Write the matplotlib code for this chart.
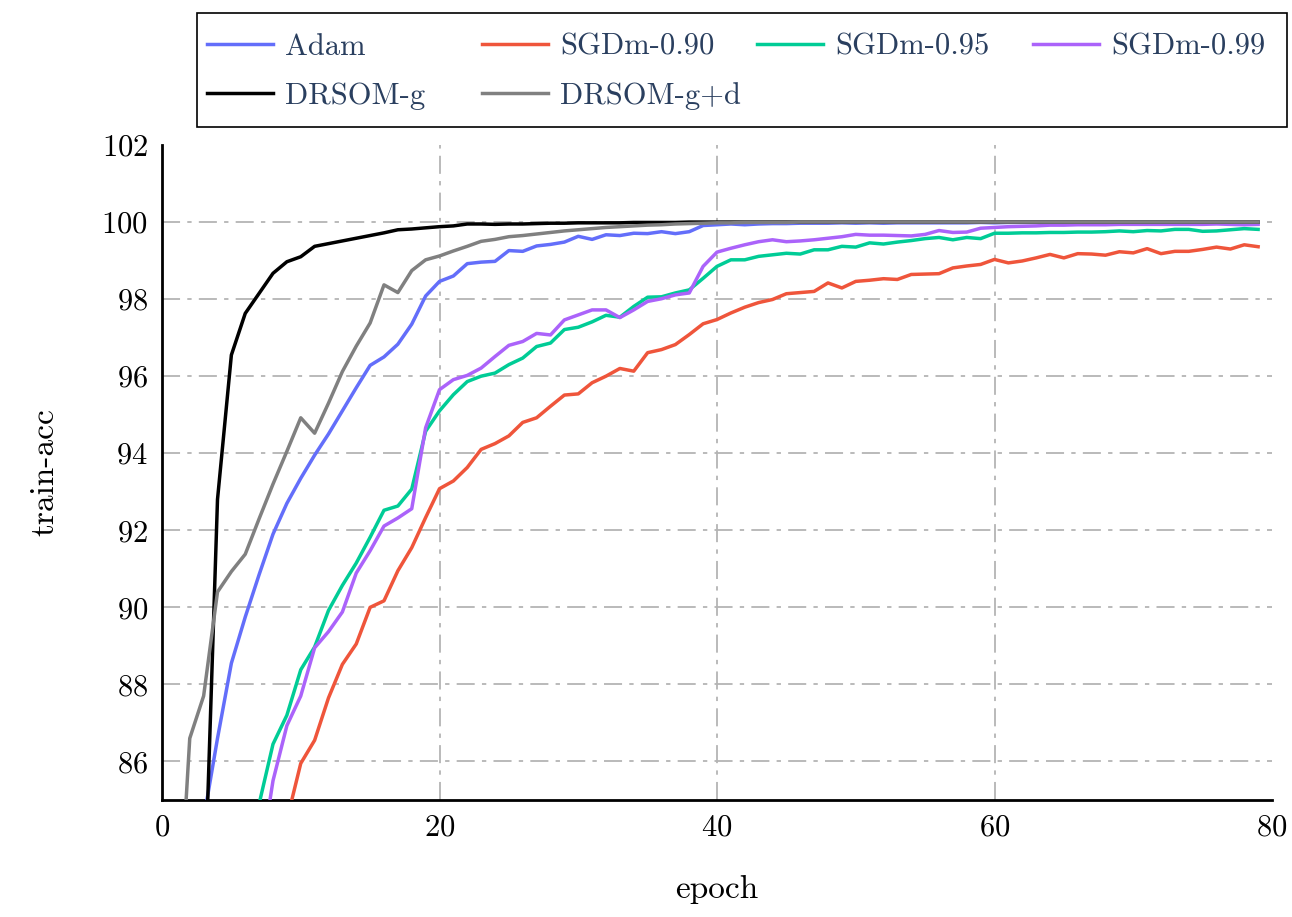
import numpy as np
import matplotlib
matplotlib.use("Agg")
import matplotlib.pyplot as plt
from matplotlib.patches import Rectangle

plt.rcParams['font.family'] = ['cmr10', 'DejaVu Serif']
plt.rcParams['axes.formatter.use_mathtext'] = True

epochs = list(range(1, 80))

# train accuracy per epoch (values < 85 are off-axis)
adam = [80.0, 82.2, 84.5, 86.6, 88.55, 89.75, 90.85, 91.9, 92.7, 93.35,
        93.95, 94.5, 95.1, 95.7, 96.28, 96.5, 96.83, 97.35, 98.08, 98.46,
        98.6, 98.92, 98.96, 98.98, 99.26, 99.24, 99.38, 99.42, 99.48, 99.63,
        99.55, 99.67, 99.65, 99.71, 99.7, 99.75, 99.7, 99.75, 99.91, 99.93,
        99.95, 99.93, 99.95, 99.96, 99.96, 99.97, 99.97, 99.97, 99.98, 99.97,
        99.98, 99.97, 99.98, 99.98, 99.98, 99.98, 99.98, 99.98, 99.99, 99.98,
        99.99, 99.99, 99.99, 99.99, 99.99, 99.99, 99.99, 99.99, 99.99, 99.99,
        99.99, 99.99, 99.99, 99.99, 99.99, 99.99, 99.99, 99.99, 99.99]
sgdm_090 = [70.0, 73.0, 75.5, 77.5, 79.3, 80.9, 82.2, 83.3, 84.48, 85.95,
            86.55, 87.65, 88.52, 89.05, 90.0, 90.17, 90.95, 91.55, 92.33, 93.08,
            93.28, 93.63, 94.1, 94.25, 94.45, 94.8, 94.92, 95.22, 95.51, 95.54,
            95.83, 96.0, 96.2, 96.13, 96.61, 96.69, 96.82, 97.08, 97.36, 97.47,
            97.64, 97.79, 97.91, 97.99, 98.14, 98.17, 98.2, 98.42, 98.29, 98.46,
            98.49, 98.53, 98.51, 98.64, 98.65, 98.66, 98.81, 98.86, 98.9, 99.03,
            98.94, 98.99, 99.07, 99.16, 99.07, 99.18, 99.17, 99.14, 99.23, 99.2,
            99.31, 99.18, 99.24, 99.24, 99.29, 99.35, 99.3, 99.41, 99.36]
sgdm_095 = [72.0, 75.0, 77.5, 79.5, 81.2, 82.8, 84.9, 86.45, 87.2, 88.38,
            88.97, 89.92, 90.57, 91.15, 91.82, 92.52, 92.63, 93.07, 94.57, 95.1,
            95.52, 95.86, 96.0, 96.08, 96.3, 96.47, 96.77, 96.86, 97.21, 97.27,
            97.41, 97.58, 97.53, 97.81, 98.05, 98.06, 98.16, 98.24, 98.54, 98.85,
            99.02, 99.02, 99.11, 99.15, 99.19, 99.17, 99.28, 99.28, 99.37, 99.35,
            99.46, 99.43, 99.48, 99.52, 99.57, 99.6, 99.54, 99.6, 99.57, 99.71,
            99.71, 99.72, 99.72, 99.73, 99.73, 99.74, 99.74, 99.75, 99.77, 99.75,
            99.78, 99.77, 99.81, 99.81, 99.76, 99.77, 99.8, 99.83, 99.81]
sgdm_099 = [70.0, 73.5, 76.0, 78.2, 80.0, 81.6, 83.2, 85.5, 86.93, 87.7,
            88.95, 89.37, 89.88, 90.89, 91.47, 92.11, 92.32, 92.56, 94.66, 95.65,
            95.91, 96.02, 96.21, 96.51, 96.8, 96.9, 97.11, 97.07, 97.46, 97.59,
            97.72, 97.72, 97.52, 97.72, 97.94, 98.01, 98.11, 98.16, 98.85, 99.22,
            99.32, 99.41, 99.49, 99.54, 99.49, 99.51, 99.54, 99.58, 99.62, 99.68,
            99.66, 99.66, 99.65, 99.64, 99.68, 99.78, 99.73, 99.74, 99.84, 99.86,
            99.88, 99.89, 99.9, 99.92, 99.92, 99.93, 99.93, 99.93, 99.94, 99.94,
            99.94, 99.94, 99.94, 99.94, 99.94, 99.95, 99.94, 99.93, 99.94]
drsom_g = [74.0, 78.0, 81.7, 92.8, 96.55, 97.63, 98.15, 98.67, 98.97, 99.1,
           99.37, 99.44, 99.51, 99.58, 99.65, 99.72, 99.8, 99.82, 99.85, 99.88,
           99.9, 99.95, 99.95, 99.94, 99.95, 99.95, 99.96, 99.97, 99.97, 99.98,
           99.98, 99.98, 99.98, 99.99, 99.99, 99.99, 99.99, 100.0, 100.0, 100.0,
           100.0, 100.0, 100.0, 100.0, 100.0, 100.0, 100.0, 100.0, 100.0, 100.0,
           100.0, 100.0, 100.0, 100.0, 100.0, 100.0, 100.0, 100.0, 100.0, 100.0,
           100.0, 100.0, 100.0, 100.0, 100.0, 100.0, 100.0, 100.0, 100.0, 100.0,
           100.0, 100.0, 100.0, 100.0, 100.0, 100.0, 100.0, 100.0, 100.0]
drsom_gd = [80.5, 86.6, 87.7, 90.4, 90.93, 91.38, 92.3, 93.2, 94.05, 94.92,
            94.52, 95.3, 96.12, 96.78, 97.38, 98.37, 98.17, 98.74, 99.02, 99.12,
            99.25, 99.37, 99.5, 99.55, 99.62, 99.65, 99.69, 99.73, 99.77, 99.8,
            99.83, 99.86, 99.88, 99.9, 99.92, 99.93, 99.95, 99.96, 99.97, 99.98,
            99.98, 99.99, 99.99, 99.99, 99.99, 100.0, 100.0, 100.0, 100.0, 100.0,
            100.0, 100.0, 100.0, 100.0, 100.0, 100.0, 100.0, 100.0, 100.0, 100.0,
            100.0, 100.0, 100.0, 100.0, 100.0, 100.0, 100.0, 100.0, 100.0, 100.0,
            100.0, 100.0, 100.0, 100.0, 100.0, 100.0, 100.0, 100.0, 100.0]

series = [
    ("Adam", adam, "#636efa"),
    ("SGDm-0.90", sgdm_090, "#ef553b"),
    ("SGDm-0.95", sgdm_095, "#00cc96"),
    ("SGDm-0.99", sgdm_099, "#ab63fa"),
    ("DRSOM-g", drsom_g, "#000000"),
    ("DRSOM-g+d", drsom_gd, "#808080"),
]

W, H = 1292, 917
fig = plt.figure(figsize=(W / 100, H / 100), dpi=100)
ax = fig.add_axes([162 / W, 1 - 800 / H, (1272 - 162) / W, (800 - 145) / H])

lines = []
for name, vals, col in series:
    ln, = ax.plot(epochs, vals, color=col, lw=2.5, label=name, zorder=3)
    lines.append(ln)

ax.set_xlim(0, 80)
ax.set_ylim(85, 102)
ax.set_xticks([0, 20, 40, 60, 80])
ax.set_yticks(np.arange(86, 103, 2))
ax.tick_params(length=0, labelsize=22, pad=10)
ax.grid(True, color="#b4b4b4", lw=1.3, linestyle=(0, (10, 4, 2.4, 4)), zorder=1)
# no grid line on the top and right limits
ax.get_ygridlines()[-1].set_visible(False)
ax.get_xgridlines()[-1].set_visible(False)
ax.get_xgridlines()[0].set_visible(False)
for s in ["top", "right"]:
    ax.spines[s].set_visible(False)
for s in ["left", "bottom"]:
    ax.spines[s].set_linewidth(2)
    ax.spines[s].set_color("black")

ax.set_xlabel("epoch", fontsize=24, labelpad=24)
ax.set_ylabel("train-acc", fontsize=24, labelpad=30)

# legend: equal-width columns, filled row by row, in a box above the plot
fig.patches.append(Rectangle((197 / W, 1 - 127 / H), 1090 / W, 114 / H,
                             transform=fig.transFigure, fill=False,
                             edgecolor="black", lw=1.2))
col_x = [207, 482, 757, 1033]
row_y = [47, 96]
for i, ln in enumerate(lines):
    r, c = divmod(i, 4)
    lg = fig.legend([ln], [ln.get_label()], loc="center left",
                    bbox_to_anchor=(col_x[c] / W, 1 - row_y[r] / H),
                    frameon=False, fontsize=22, handlelength=2.15,
                    handletextpad=0.4, borderpad=0, borderaxespad=0)
    lg.get_texts()[0].set_color("#2a3f5f")

fig.savefig("out.png", dpi=100)
